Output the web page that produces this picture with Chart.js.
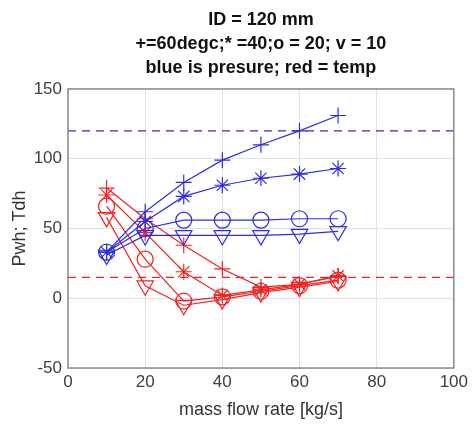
<!DOCTYPE html>
<html>
<head>
<meta charset="utf-8">
<script src="https://cdn.jsdelivr.net/npm/chart.js@4"></script>
<style>
  html, body { margin: 0; padding: 0; background: #fff; }
  #wrap { width: 472px; height: 425px; }
</style>
</head>
<body>
<div id="wrap"><canvas id="myChart" width="472" height="425"></canvas></div>
<script>
// mass flow rate [kg/s]
var flow = [10, 20, 30, 40, 50, 60, 70];

// pressure (blue), one series per temperature
var pres60 = [33, 62, 83, 99, 110, 120, 131];
var pres40 = [33, 55, 73, 81, 86, 89, 93];
var pres20 = [33, 50, 56, 56, 56, 57, 57];
var pres10 = [31, 45, 45, 45, 45, 46, 48];

// temperature (red)
var temp60 = [79, 57, 38, 21, 8, 10, 16];
var temp40 = [74, 47, 19, 2, 6, 10, 16];
var temp20 = [66, 28, -2, 1, 5, 9, 13];
var temp10 = [58, 9, -5, -1, 4, 8, 12];

// reference levels (dashed)
var limitX = [0, 100];
var presLimit = [120, 120];
var tempLimit = [15, 15];

var xTicks = [0, 20, 40, 60, 80, 100];
var yTicks = [-50, 0, 50, 100, 150];

var blue = 'rgb(45,45,225)';
var red = 'rgb(240,35,35)';
var font = 'Liberation Sans, Arial, sans-serif';

function pts(xs, ys) {
    return xs.map(function(x, i) { return { x: x, y: ys[i] }; });
}

function series(ys, color, style, rot, r) {
    return {
        data: pts(flow, ys),
        borderColor: color,
        backgroundColor: 'rgba(0,0,0,0)',
        borderWidth: 1.2,
        pointStyle: style,
        pointRotation: rot || 0,
        pointRadius: r || 8,
        pointBorderWidth: 1.2,
        pointBorderColor: color,
        pointBackgroundColor: 'rgba(0,0,0,0)',
        tension: 0
    };
}

function dashed(ys, color) {
    return {
        data: pts(limitX, ys),
        borderColor: color,
        borderWidth: 1.2,
        borderDash: [8, 6],
        pointRadius: 0
    };
}

// box around the axes, like matlab
var frame = {
    id: 'frame',
    afterDraw: function(chart) {
        var a = chart.chartArea, c = chart.ctx;
        c.save();
        c.strokeStyle = '#8c8c8c';
        c.lineWidth = 1.5;
        c.strokeRect(a.left, a.top, a.right - a.left, a.bottom - a.top);
        c.restore();
    }
};

var ctx = document.getElementById('myChart').getContext('2d');
var myChart = new Chart(ctx, {
    type: 'line',
    data: {
        datasets: [
            dashed(presLimit, blue),
            dashed(tempLimit, red),
            series(pres60, blue, 'cross'),
            series(pres40, blue, 'star'),
            series(pres20, blue, 'circle'),
            series(pres10, blue, 'triangle', 180, 9.5),
            series(temp60, red, 'cross'),
            series(temp40, red, 'star'),
            series(temp20, red, 'circle'),
            series(temp10, red, 'triangle', 180, 9.5)
        ]
    },
    options: {
        responsive: false,
        animation: false,
        layout: { padding: 0 },
        plugins: {
            legend: { display: false },
            tooltip: { enabled: false },
            title: {
                display: true,
                fullSize: false,
                text: ['ID = 120 mm', '+=60degc;* =40;o = 20; v = 10', 'blue is presure; red = temp'],
                color: '#111',
                font: { family: font, size: 18, weight: 'bold', lineHeight: 1.333 },
                padding: { top: 8, bottom: 9 }
            }
        },
        scales: {
            x: {
                type: 'linear',
                min: 0, max: 100,
                afterBuildTicks: function(s) { s.ticks = xTicks.map(function(v) { return { value: v }; }); },
                afterFit: function(s) { s.height = 57; },
                grid: { color: '#e2e2e2', drawTicks: false },
                border: { display: false },
                ticks: { color: '#404040', padding: 4, font: { family: font, size: 17 } },
                title: {
                    display: true,
                    text: 'mass flow rate [kg/s]',
                    color: '#333',
                    font: { family: font, size: 18 },
                    padding: { top: 0, bottom: 4 }
                }
            },
            y: {
                type: 'linear',
                min: -50, max: 150,
                afterBuildTicks: function(s) { s.ticks = yTicks.map(function(v) { return { value: v }; }); },
                afterFit: function(s) { s.width = 68; },
                grid: { color: '#e2e2e2', drawTicks: false },
                border: { display: false },
                ticks: { color: '#404040', padding: 6, font: { family: font, size: 17 } },
                title: {
                    display: true,
                    text: 'Pwh; Tdh',
                    color: '#333',
                    font: { family: font, size: 18 },
                    padding: { top: 9, bottom: 0 }
                }
            }
        }
    },
    plugins: [frame]
});
</script>
</body>
</html>
